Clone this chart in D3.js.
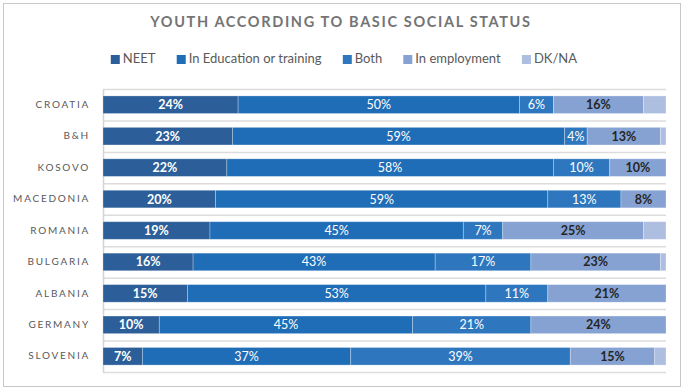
<!DOCTYPE html>
<html>
<head>
<meta charset="utf-8">
<script src="https://cdn.jsdelivr.net/npm/d3@7"></script>
<style>
  html, body { margin: 0; padding: 0; background: #fff; }
  svg { display: block; }
</style>
</head>
<body>
<svg id="chart" width="683" height="388"></svg>
<script>
// Countries, top to bottom
const countries = ["CROATIA", "B&H", "KOSOVO", "MACEDONIA", "ROMANIA", "BULGARIA", "ALBANIA", "GERMANY", "SLOVENIA"];
// Shares (%) per status
const neet       = [24, 23, 22, 20, 19, 16, 15, 10, 7];
const education  = [50, 59, 58, 59, 45, 43, 53, 45, 37];
const both       = [6, 4, 10, 13, 7, 17, 11, 21, 39];
const employment = [16, 13, 10, 8, 25, 23, 21, 24, 15];
const dkna       = [4, 1, 0, 0, 4, 1, 0, 0, 2];

const seriesNames = ["NEET", "In Education or training", "Both", "In employment", "DK/NA"];
const seriesColors = ["#2c5f99", "#1f6db6", "#2e77be", "#85a2d3", "#adbee1"];
const labelColors = ["#ffffff", "#ffffff", "#ffffff", "#262626", null];
const labelWeights = ["bold", "normal", "normal", "bold", "normal"];
const title = "YOUTH ACCORDING TO BASIC SOCIAL STATUS";

const rows = countries.map((c, i) => ({
  country: c,
  NEET: neet[i],
  "In Education or training": education[i],
  Both: both[i],
  "In employment": employment[i],
  "DK/NA": dkna[i]
}));

const svg = d3.select("#chart");
const W = 683, H = 388;
const font = "Lato, 'Open Sans', sans-serif";

// Outer frame
svg.append("rect")
  .attr("x", 3.5).attr("y", 3.5)
  .attr("width", W - 6).attr("height", H - 5)
  .attr("fill", "#fff").attr("stroke", "#c8c8c8").attr("stroke-width", 1);

// Title
svg.append("text")
  .attr("x", 341).attr("y", 27)
  .attr("text-anchor", "middle")
  .attr("font-family", font)
  .attr("font-size", 14.5)
  .attr("font-weight", "bold")
  .attr("letter-spacing", 1.65)
  .attr("fill", "#747474")
  .text(title);

const margin = { left: 103, right: 17, top: 89, bottom: 16 };
const x = d3.scaleLinear().domain([0, 100]).range([margin.left, W - margin.right]);
const y = d3.scaleBand().domain(countries).range([margin.top, H - margin.bottom]).paddingInner(0.44).paddingOuter(0.22);

// Horizontal grid lines on category boundaries
const step = y.step();
const bounds = d3.range(countries.length + 1).map(i => margin.top + i * step);
svg.append("g").selectAll("line").data(bounds).join("line")
  .attr("x1", margin.left).attr("x2", x(100))
  .attr("y1", d => d + 0.5).attr("y2", d => d + 0.5)
  .attr("stroke", "#dcdcdc").attr("stroke-width", 1.5);

// Category axis
const yAxis = svg.append("g")
  .attr("transform", `translate(${margin.left},0)`)
  .call(d3.axisLeft(y).tickSize(0).tickPadding(13));
yAxis.select(".domain").attr("stroke", "#d4d4d4").attr("stroke-width", 1.5);
yAxis.selectAll("text")
  .attr("font-family", font)
  .attr("font-size", 10)
  .attr("letter-spacing", 1.75)
  .attr("fill", "#595959");

// Stacked bars
const stack = d3.stack().keys(seriesNames);
const layers = stack(rows);

const g = svg.append("g");
layers.forEach((layer, si) => {
  const lg = g.append("g");
  lg.selectAll("rect").data(layer).join("rect")
    .attr("x", d => x(d[0]))
    .attr("y", d => y(d.data.country))
    .attr("width", d => Math.max(0, x(d[1]) - x(d[0])))
    .attr("height", y.bandwidth())
    .attr("fill", seriesColors[si])
    .attr("stroke", "rgba(255,255,255,0.35)")
    .attr("stroke-width", 0.8);
  if (labelColors[si]) {
    lg.selectAll("text").data(layer.filter(d => d[1] - d[0] > 0)).join("text")
      .attr("x", d => (x(d[0]) + x(d[1])) / 2)
      .attr("y", d => y(d.data.country) + y.bandwidth() / 2)
      .attr("dy", "0.36em")
      .attr("text-anchor", "middle")
      .attr("font-family", font)
      .attr("font-size", 12.5)
      .attr("font-weight", labelWeights[si])
      .attr("fill", labelColors[si])
      .text(d => `${d[1] - d[0]}%`);
  }
});

// Legend
const legend = svg.append("g");
const items = legend.selectAll("g").data(seriesNames).join("g");
items.append("rect")
  .attr("width", 9).attr("height", 9)
  .attr("y", -8)
  .attr("fill", (d, i) => seriesColors[i]);
items.append("text")
  .attr("x", 12)
  .attr("font-family", font)
  .attr("font-size", 13)
  .attr("fill", "#595959")
  .text(d => d);
let cx = 0;
const gap = 21;
items.each(function () {
  const w = this.getBBox().width;
  d3.select(this).attr("transform", `translate(${cx},0)`);
  cx += w + gap;
});
const totalW = cx - gap;
legend.attr("transform", `translate(${344 - totalW / 2},63)`);
</script>
</body>
</html>
